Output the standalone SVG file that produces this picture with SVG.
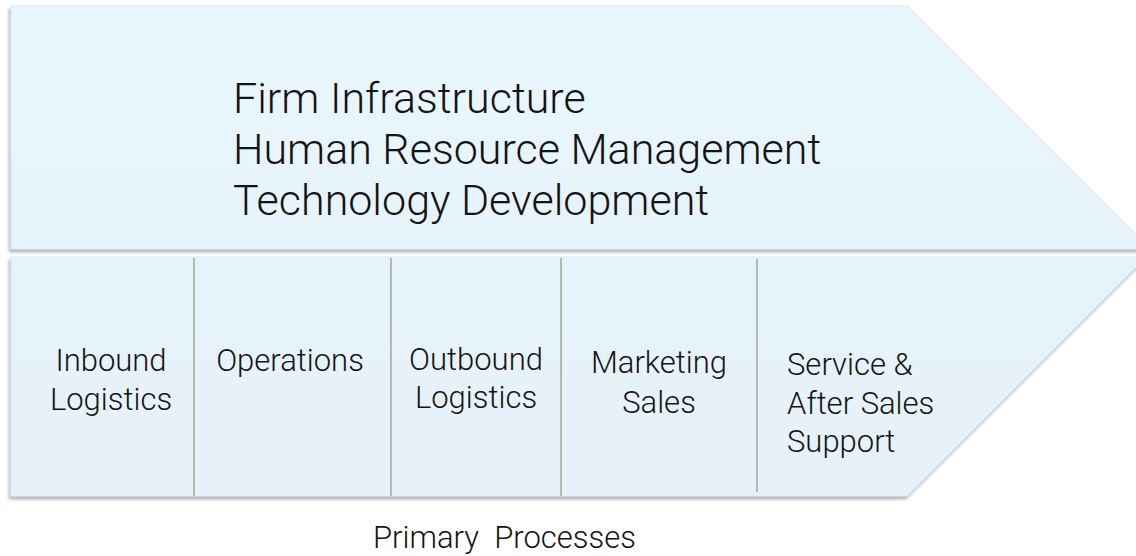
<svg xmlns="http://www.w3.org/2000/svg" width="1136" height="556" viewBox="0 0 1136 556">
<defs>
<linearGradient id="gTop" x1="0" y1="0" x2="0" y2="1">
<stop offset="0" stop-color="#e9f7fe"/>
<stop offset="1" stop-color="#e6f3fb"/>
</linearGradient>
<linearGradient id="gBot" x1="0" y1="0" x2="0" y2="1">
<stop offset="0" stop-color="#e7f3fb"/>
<stop offset="1" stop-color="#e6f1fa"/>
</linearGradient>
<filter id="sh" x="-5%" y="-5%" width="110%" height="115%">
<feDropShadow dx="-1.5" dy="3" stdDeviation="1.6" flood-color="#6d7b85" flood-opacity="0.55"/>
</filter>
<style>
.band{stroke:#dce9f1;stroke-width:1.2}
.div{stroke:#a3ad9c;stroke-width:1.6}
.big{font-family:"Roboto Light",Roboto,"Liberation Sans",sans-serif;font-weight:300;font-size:43px;fill:#141414}
.lbl{font-family:"Roboto Light",Roboto,"Liberation Sans",sans-serif;font-weight:300;font-size:31px;fill:#141414}
.c{text-anchor:middle}
</style>
</defs>
<g id="support">
<polygon class="band" points="11,6 907,6 1150,249 11,249" fill="url(#gTop)" filter="url(#sh)"/>
<text class="big" x="233" y="113">Firm Infrastructure</text>
<text class="big" x="233" y="164">Human Resource Management</text>
<text class="big" x="233" y="215">Technology Development</text>
</g>
<g id="primary">
<polygon class="band" points="11,257 1146,257 907,496 11,496" fill="url(#gBot)" filter="url(#sh)"/>
</g>
<g id="connectors">
<line class="div" x1="194" y1="258" x2="194" y2="496"/>
<line class="div" x1="391" y1="258" x2="391" y2="496"/>
<line class="div" x1="561" y1="258" x2="561" y2="496"/>
<line class="div" x1="757" y1="259" x2="757" y2="492"/>
</g>
<g id="inbound">
<text class="lbl c" x="111" y="371">Inbound</text>
<text class="lbl c" x="111" y="410">Logistics</text>
</g>
<g id="operations">
<text class="lbl c" x="290" y="371">Operations</text>
</g>
<g id="outbound">
<text class="lbl c" x="476" y="370">Outbound</text>
<text class="lbl c" x="476" y="408">Logistics</text>
</g>
<g id="marketing">
<text class="lbl c" x="659" y="373">Marketing</text>
<text class="lbl c" x="659" y="413">Sales</text>
</g>
<g id="service">
<text class="lbl" x="787" y="375">Service &amp;</text>
<text class="lbl" x="787" y="414">After Sales</text>
<text class="lbl" x="787" y="452">Support</text>
</g>
<g id="caption">
<text class="lbl" x="373" y="548" style="white-space:pre" xml:space="preserve">Primary  Processes</text>
</g>
</svg>
